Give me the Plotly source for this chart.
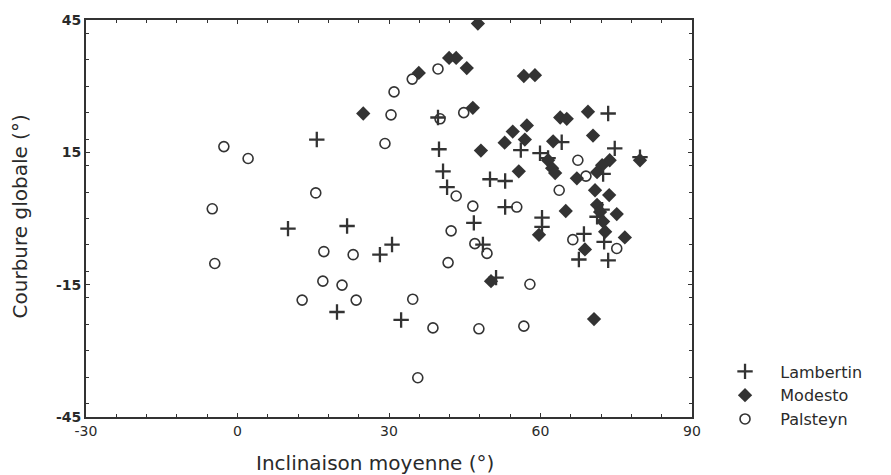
import plotly.graph_objects as go

# Lambertin (+)
lam_x = [15.7, 39.7, 39.9, 40.7, 41.5, 21.7, 46.8, 10.0, 30.6, 28.2, 19.7, 32.4, 48.6, 51.2,
         60.3, 60.3, 68.6, 67.6, 72.6, 73.4, 71.2, 73.4, 64.2, 74.7, 56.1, 59.9, 61.5, 79.7,
         72.4, 50.0, 53.0, 53.0, 72.2]
lam_y = [17.9, 22.9, 15.7, 10.7, 7.1, -1.7, -1.0, -2.3, -5.9, -8.2, -21.2, -23.0, -5.9, -13.4,
         0.2, -1.9, -3.5, -9.3, -5.3, -9.5, 0.4, 23.8, 17.3, 15.9, 15.5, 14.8, 13.7, 13.9,
         10.1, 8.9, 8.5, 2.6, 2.0]

# Modesto (filled diamond)
mod_x = [47.6, 24.9, 35.9, 41.9, 43.3, 45.4, 46.6, 48.2, 56.7, 58.9, 63.9, 65.2, 69.4, 54.5,
         57.3, 52.9, 56.9, 62.5, 70.4, 55.7, 61.5, 62.3, 62.9, 67.2, 79.7, 73.7, 72.2, 71.2,
         70.8, 73.6, 71.2, 71.8, 75.1, 72.4, 72.8, 65.0, 59.7, 68.8, 76.7, 50.2, 70.6]
mod_y = [44.2, 23.8, 33.0, 36.4, 36.4, 34.1, 25.1, 15.4, 32.3, 32.5, 22.9, 22.6, 24.2, 19.7,
         21.1, 17.2, 17.9, 17.5, 18.8, 10.7, 13.2, 11.4, 10.3, 9.1, 13.2, 13.2, 12.1, 10.5,
         6.4, 5.3, 3.1, 1.5, 1.0, -0.7, -3.0, 1.7, -3.7, -7.0, -4.3, -14.2, -22.8]

# Palsteyn (open circle)
pal_x = [-2.7, 2.1, -5.0, -4.5, 15.5, 29.2, 30.4, 31.0, 34.6, 39.7, 40.1, 44.8, 43.3, 46.6,
         55.3, 63.7, 67.4, 69.0, 42.3, 47.0, 49.4, 41.7, 66.4, 75.1, 57.9, 34.7, 38.7, 47.8,
         56.7, 35.7, 17.1, 22.9, 16.9, 20.7, 12.8, 23.5]
pal_y = [16.3, 13.6, 2.2, -10.2, 5.8, 17.0, 23.5, 28.7, 31.6, 33.9, 22.6, 24.0, 5.1, 2.8,
         2.6, 6.4, 13.2, 9.6, -2.8, -5.7, -7.9, -10.0, -4.8, -6.8, -14.9, -18.3, -24.8, -25.0,
         -24.4, -36.1, -7.5, -8.2, -14.2, -15.1, -18.5, -18.5]

x_ticks = [-30, 0, 30, 60, 90]
y_ticks = [-45, -15, 15, 45]
series_names = ["Lambertin", "Modesto", "Palsteyn"]

INK = "#333333"
TXT = "#2a2a2a"
FONT = "DejaVu Sans, Verdana, sans-serif"
PAD = "\u00a0\u00a0\u00a0"

fig = go.Figure()
fig.add_trace(go.Scatter(x=lam_x, y=lam_y, mode="markers", name=PAD + series_names[0],
                         marker=dict(symbol="cross-thin", size=11, color=INK,
                                     line=dict(width=2.3, color=INK))))
fig.add_trace(go.Scatter(x=mod_x, y=mod_y, mode="markers", name=PAD + series_names[1],
                         marker=dict(symbol="diamond", size=11, color=INK,
                                     line=dict(width=0))))
fig.add_trace(go.Scatter(x=pal_x, y=pal_y, mode="markers", name=PAD + series_names[2],
                         marker=dict(symbol="circle-open", size=10, color=INK,
                                     line=dict(width=1.6, color=INK))))

axis_common = dict(showgrid=False, zeroline=False, showline=True, linewidth=2,
                   linecolor=INK, mirror="ticks", ticks="inside", ticklen=4,
                   tickwidth=1, tickcolor=INK,
                   minor=dict(ticks="inside", ticklen=3, tickwidth=1, tickcolor=INK, dtick=6))

fig.update_xaxes(range=[-30, 90], tickvals=x_ticks, ticktext=[str(v) for v in x_ticks],
                 tickfont=dict(family=FONT, size=14, color=TXT), **axis_common)
fig.update_yaxes(range=[-45, 45], tickvals=y_ticks, ticktext=[str(v) for v in y_ticks],
                 tickfont=dict(family=FONT, size=14, color=TXT, weight="bold"), **axis_common)

fig.add_annotation(text="Inclinaison moyenne (°)", xref="paper", yref="paper",
                   x=0.477, y=-0.115, xanchor="center", yanchor="middle", showarrow=False,
                   font=dict(family=FONT, size=20, color=TXT))
fig.add_annotation(text="Courbure globale (°)", xref="paper", yref="paper",
                   x=-0.109, y=0.505, xanchor="center", yanchor="middle",
                   textangle=-90, showarrow=False,
                   font=dict(family=FONT, size=20, color=TXT))

fig.update_layout(
    width=891, height=475,
    margin=dict(l=86, r=199, t=17, b=58),
    paper_bgcolor="white", plot_bgcolor="white",
    showlegend=True,
    legend=dict(x=1.0545, y=0.1575, xanchor="left", yanchor="top",
                font=dict(family=FONT, size=16, color=TXT),
                bgcolor="rgba(0,0,0,0)", tracegroupgap=0),
)

fig.write_html("out.html")
